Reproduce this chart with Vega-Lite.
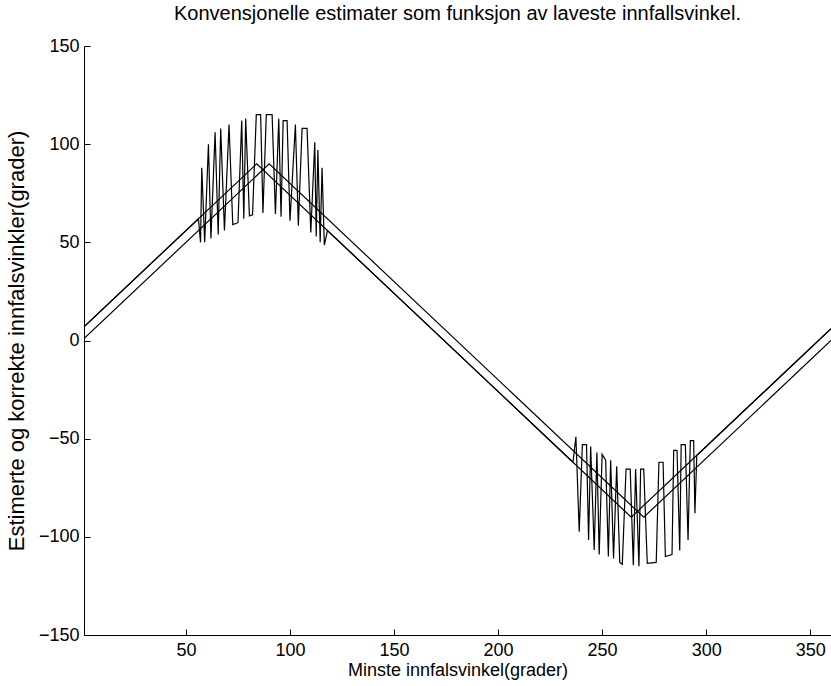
{
  "$schema": "https://vega.github.io/schema/vega-lite/v6.json",
  "autosize": "none",
  "padding": {"left": 84, "top": 46, "right": 0, "bottom": 51},
  "width": 747,
  "height": 589,
  "background": "white",
  "config": {
    "view": {"stroke": null},
    "font": "Liberation Sans",
    "axis": {"grid": false, "domainColor": "black", "tickColor": "black", "labelColor": "black", "titleColor": "black", "labelFont": "Liberation Sans", "titleFont": "Liberation Sans", "labelFontSize": 18, "titleFontSize": 18, "titleFontWeight": "normal", "tickSize": -6, "domainWidth": 1, "tickWidth": 1}
  },
  "title": {"text": "Konvensjonelle estimater som funksjon av laveste innfallsvinkel.", "fontSize": 20, "fontWeight": "normal", "font": "Liberation Sans", "color": "black", "anchor": "middle", "offset": 13},
  "data": {"values": [
    {"s": "a", "x": 1, "y": 1}, {"s": "a", "x": 90, "y": 90}, {"s": "a", "x": 270, "y": -90}, {"s": "a", "x": 360, "y": 0},
    {"s": "b", "x": 1, "y": 7}, {"s": "b", "x": 84, "y": 90}, {"s": "b", "x": 264, "y": -90}, {"s": "b", "x": 360, "y": 6},
    {"s": "e", "x": 1, "y": 7}, {"s": "e", "x": 54, "y": 60}, {"s": "e", "x": 56, "y": 62}, {"s": "e", "x": 57, "y": 50},
    {"s": "e", "x": 57.6, "y": 88}, {"s": "e", "x": 59, "y": 50}, {"s": "e", "x": 60.8, "y": 100}, {"s": "e", "x": 62, "y": 52},
    {"s": "e", "x": 64, "y": 106}, {"s": "e", "x": 65.5, "y": 54}, {"s": "e", "x": 66.7, "y": 108}, {"s": "e", "x": 68.5, "y": 56},
    {"s": "e", "x": 70.7, "y": 110}, {"s": "e", "x": 72.5, "y": 59}, {"s": "e", "x": 75, "y": 60}, {"s": "e", "x": 76.8, "y": 112},
    {"s": "e", "x": 77.8, "y": 62}, {"s": "e", "x": 78.7, "y": 113}, {"s": "e", "x": 80.5, "y": 63.5}, {"s": "e", "x": 82, "y": 64},
    {"s": "e", "x": 83.8, "y": 115}, {"s": "e", "x": 85.9, "y": 115}, {"s": "e", "x": 87, "y": 65}, {"s": "e", "x": 88.6, "y": 115},
    {"s": "e", "x": 91.4, "y": 115}, {"s": "e", "x": 93, "y": 64.5}, {"s": "e", "x": 94.6, "y": 113}, {"s": "e", "x": 95.7, "y": 63},
    {"s": "e", "x": 96.7, "y": 112}, {"s": "e", "x": 98.6, "y": 112}, {"s": "e", "x": 100, "y": 61}, {"s": "e", "x": 102.6, "y": 110},
    {"s": "e", "x": 104, "y": 58.5}, {"s": "e", "x": 105.8, "y": 108}, {"s": "e", "x": 108.2, "y": 108}, {"s": "e", "x": 110, "y": 55},
    {"s": "e", "x": 111.9, "y": 101}, {"s": "e", "x": 112.6, "y": 53}, {"s": "e", "x": 113.4, "y": 97}, {"s": "e", "x": 114.5, "y": 50},
    {"s": "e", "x": 115.4, "y": 88}, {"s": "e", "x": 116.5, "y": 48.6}, {"s": "e", "x": 118, "y": 56}, {"s": "e", "x": 125, "y": 49},
    {"s": "e", "x": 230, "y": -56}, {"s": "e", "x": 236, "y": -62}, {"s": "e", "x": 237.4, "y": -49}, {"s": "e", "x": 239, "y": -97.4},
    {"s": "e", "x": 240.5, "y": -53}, {"s": "e", "x": 242.5, "y": -53}, {"s": "e", "x": 243.5, "y": -101.6}, {"s": "e", "x": 244.5, "y": -54},
    {"s": "e", "x": 246.2, "y": -106.7}, {"s": "e", "x": 247.5, "y": -57}, {"s": "e", "x": 248.6, "y": -109}, {"s": "e", "x": 250, "y": -58},
    {"s": "e", "x": 251.7, "y": -61}, {"s": "e", "x": 253, "y": -110}, {"s": "e", "x": 254.1, "y": -61}, {"s": "e", "x": 255.5, "y": -111},
    {"s": "e", "x": 257, "y": -64}, {"s": "e", "x": 258.5, "y": -113}, {"s": "e", "x": 259.7, "y": -114}, {"s": "e", "x": 261.5, "y": -65.5},
    {"s": "e", "x": 263.5, "y": -65.5}, {"s": "e", "x": 265, "y": -114.5}, {"s": "e", "x": 266.1, "y": -65.5}, {"s": "e", "x": 267.7, "y": -115},
    {"s": "e", "x": 268.5, "y": -65.5}, {"s": "e", "x": 270, "y": -65.5}, {"s": "e", "x": 271.7, "y": -113.5}, {"s": "e", "x": 276, "y": -113},
    {"s": "e", "x": 277.3, "y": -62}, {"s": "e", "x": 279.3, "y": -62}, {"s": "e", "x": 280.4, "y": -110}, {"s": "e", "x": 283.6, "y": -109},
    {"s": "e", "x": 284.4, "y": -56}, {"s": "e", "x": 286, "y": -56}, {"s": "e", "x": 287.3, "y": -107}, {"s": "e", "x": 288, "y": -53},
    {"s": "e", "x": 290, "y": -53}, {"s": "e", "x": 291.3, "y": -101.6}, {"s": "e", "x": 292.4, "y": -51}, {"s": "e", "x": 294, "y": -51},
    {"s": "e", "x": 294.6, "y": -88}, {"s": "e", "x": 295.5, "y": -58.5}, {"s": "e", "x": 298, "y": -56}, {"s": "e", "x": 360, "y": 6}
  ]},
  "mark": {"type": "line", "color": "black", "strokeWidth": 1.2, "clip": true},
  "encoding": {
    "x": {"field": "x", "type": "quantitative", "scale": {"domain": [1, 360], "nice": false, "zero": false},
      "axis": {"values": [50, 100, 150, 200, 250, 300, 350], "title": "Minste innfalsvinkel(grader)", "labelPadding": 12, "titlePadding": 2, "labelFlush": false}},
    "y": {"field": "y", "type": "quantitative", "scale": {"domain": [-150, 150], "nice": false, "zero": false},
      "axis": {"values": [-150, -100, -50, 0, 50, 100, 150], "title": "Estimerte og korrekte innfalsvinkler(grader)", "titleFontSize": 22, "labelPadding": 11, "titlePadding": 10, "labelFlush": false}},
    "detail": {"field": "s", "type": "nominal"}
  }
}
